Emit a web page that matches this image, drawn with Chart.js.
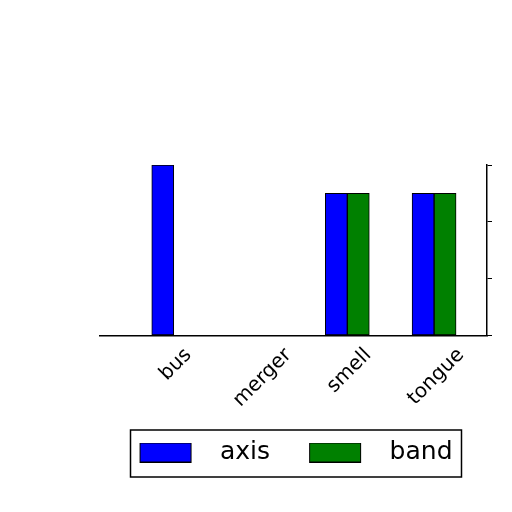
<!DOCTYPE html>
<html>
<head>
<meta charset="utf-8">
<script src="https://cdn.jsdelivr.net/npm/chart.js@4/dist/chart.umd.min.js"></script>
<style>
  html, body { margin: 0; padding: 0; background: #ffffff; }
  #wrap { width: 512px; height: 512px; }
</style>
</head>
<body>
<div id="wrap"><canvas id="c" width="512" height="512"></canvas></div>
<script>
const categories = ['bus', 'merger', 'smell', 'tongue'];
const seriesNames = ['axis', 'band'];
const axisValues = [3.0, 0, 2.5, 2.5];
const bandValues = [0, 0, 2.5, 2.5];
const colors = ['#0000ff', '#008000'];
const tickFontSize = 20;

function swatch(color) {
  const cv = document.createElement('canvas');
  cv.width = 73; cv.height = 20;
  const g = cv.getContext('2d');
  g.fillStyle = color;
  g.fillRect(5.5, 0.5, 51, 19);
  g.strokeStyle = '#000';
  g.lineWidth = 1;
  g.strokeRect(5.5, 0.5, 51, 19);
  return cv;
}
const swatches = colors.map(swatch);

// center rotated tick labels on their tick (like matplotlib ha='center')
const centerRotatedLabels = {
  id: 'centerRotatedLabels',
  beforeDraw(chart) {
    const s = chart.scales.x;
    if (!s || !s.getLabelItems) return;
    const items = s.getLabelItems();
    if (items._centered) return;
    const ctx = chart.ctx;
    ctx.save();
    ctx.font = tickFontSize + 'px "DejaVu Sans"';
    items.forEach((it) => {
      const txt = Array.isArray(it.label) ? it.label.join(' ') : String(it.label);
      const w = ctx.measureText(txt).width;
      it.options.translation[0] += 0.354 * w + 2;
    });
    ctx.restore();
    items._centered = true;
  }
};

const legendBorder = {
  id: 'legendBorder',
  afterDraw(chart) {
    const lg = chart.legend;
    if (!lg || !lg.legendHitBoxes || !lg.legendHitBoxes.length) return;
    const hb = lg.legendHitBoxes;
    const first = hb[0], last = hb[hb.length - 1];
    const ctx = chart.ctx;
    ctx.save();
    ctx.strokeStyle = '#000';
    ctx.lineWidth = 1.5;
    const l = first.left - 4, r = last.left + last.width + 9;
    const t = first.top - 10, b = first.top + 37;
    ctx.strokeRect(l, t, r - l, b - t);
    ctx.restore();
  }
};

new Chart(document.getElementById('c'), {
  type: 'bar',
  data: {
    datasets: [
      {
        label: seriesNames[0],
        data: categories.map((c, i) => ({ x: i, y: axisValues[i] })),
        backgroundColor: colors[0],
        borderColor: '#000',
        borderWidth: 1,
        borderSkipped: false,
        barThickness: 22
      },
      {
        label: seriesNames[1],
        data: categories.map((c, i) => ({ x: i, y: bandValues[i] })),
        backgroundColor: colors[1],
        borderColor: '#000',
        borderWidth: 1,
        borderSkipped: false,
        barThickness: 22
      }
    ]
  },
  options: {
    responsive: false,
    animation: false,
    devicePixelRatio: 1,
    layout: { padding: { top: 165, left: 100, right: 20, bottom: 37 } },
    scales: {
      x: {
        type: 'linear',
        offset: false,
        min: -0.85,
        max: 3.61,
        grid: { drawOnChartArea: false, drawTicks: false, offset: false },
        border: { display: true, color: '#000', width: 1.5 },
        afterFit: (s) => { s.height -= 14; },
        ticks: {
          stepSize: 1,
          autoSkip: false,
          minRotation: 45,
          maxRotation: 45,
          labelOffset: 0,
          padding: 8,
          color: '#000',
          font: { family: 'DejaVu Sans', size: tickFontSize },
          callback: (v) => (Number.isInteger(v) && categories[v] !== undefined) ? categories[v] : ''
        }
      },
      y: {
        position: 'right',
        min: 0,
        max: 3,
        grid: { drawOnChartArea: false, drawTicks: true, tickLength: 5, color: '#000' },
        border: { display: true, color: '#000', width: 1.5 },
        ticks: { display: false, stepSize: 1 }
      }
    },
    plugins: {
      tooltip: { enabled: false },
      legend: {
        position: 'bottom',
        fullSize: false,
        labels: {
          usePointStyle: true,
          pointStyleWidth: 73,
          boxHeight: 20,
          padding: 34,
          color: '#000',
          font: { family: 'DejaVu Sans', size: 25 },
          generateLabels: (chart) => {
            const items = Chart.defaults.plugins.legend.labels.generateLabels(chart);
            items.forEach((it, i) => { it.pointStyle = swatches[i]; });
            return items;
          }
        }
      }
    }
  },
  plugins: [centerRotatedLabels, legendBorder]
});
</script>
</body>
</html>
